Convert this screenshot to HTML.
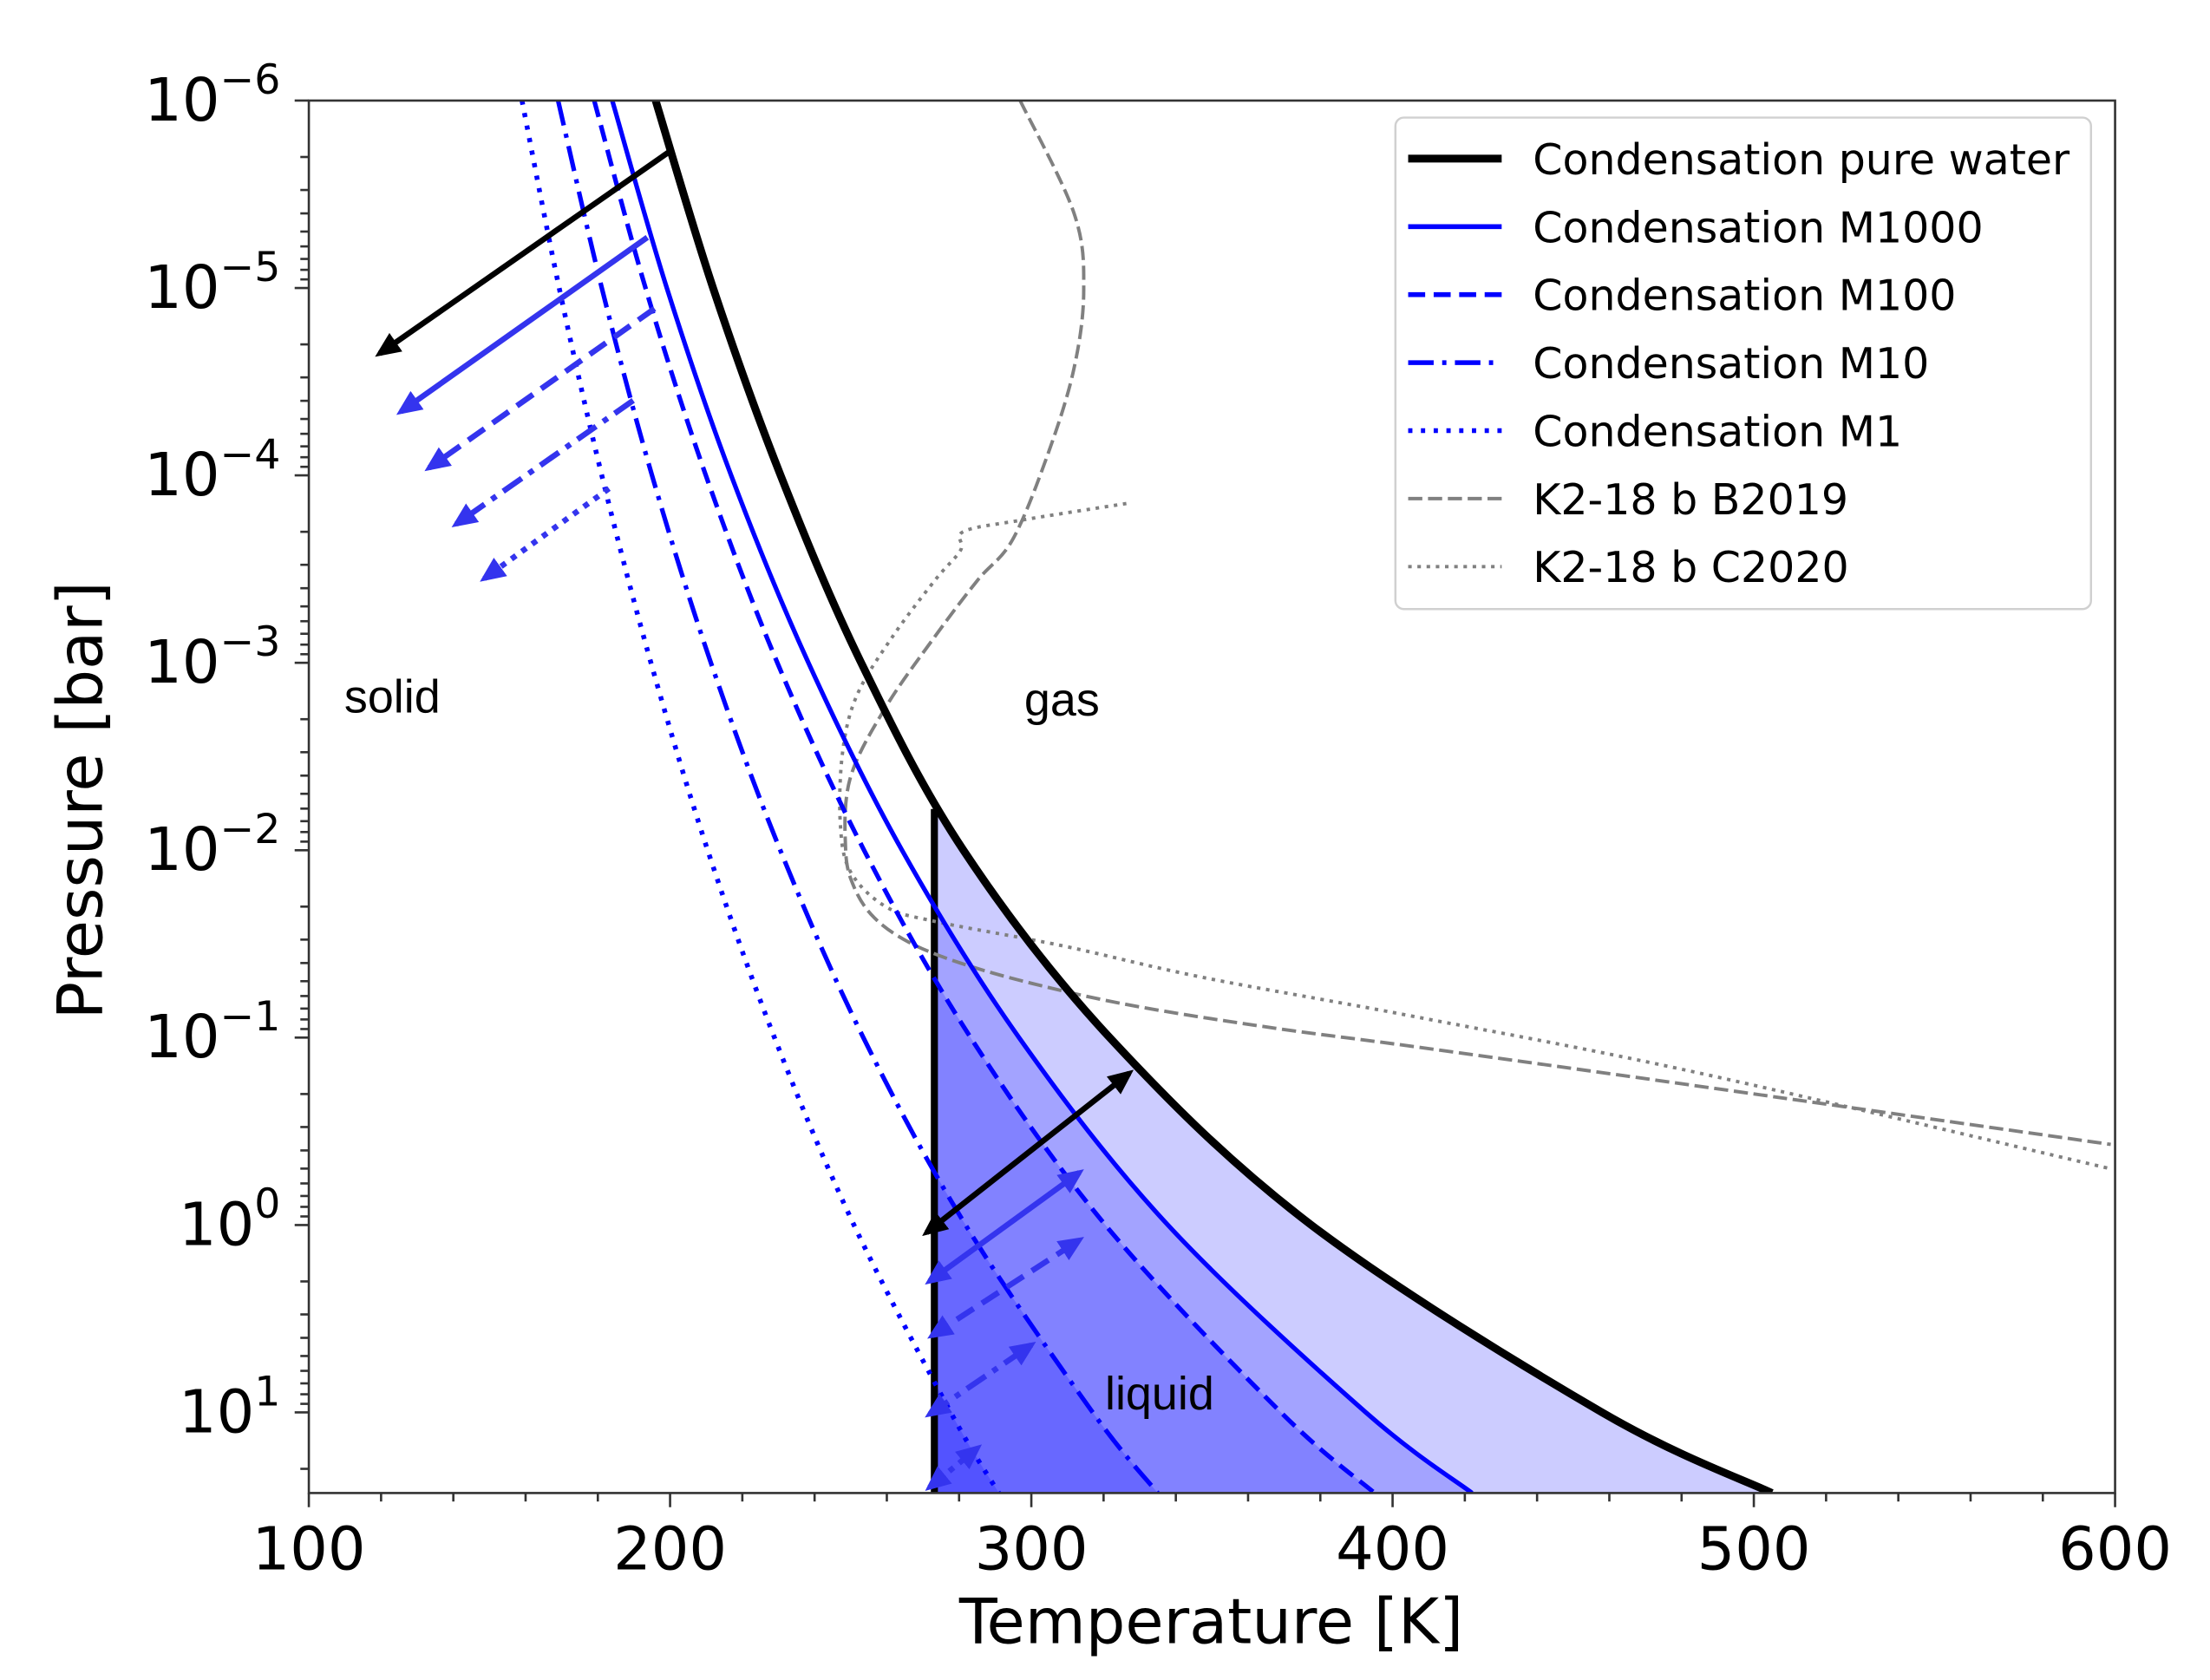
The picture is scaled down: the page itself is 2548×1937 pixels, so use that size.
<!DOCTYPE html>
<html><head><meta charset="utf-8"><style>
html,body{margin:0;padding:0;background:#fff;}
svg{display:block;font-family:"DejaVu Sans","Liberation Sans",sans-serif;}
</style></head><body>
<svg id="chart" width="2548" height="1937" viewBox="0 0 1560 1186" preserveAspectRatio="none" xmlns="http://www.w3.org/2000/svg">
<defs>
<clipPath id="plotclip"><rect x="218" y="71" width="1275" height="983"/></clipPath>
<clipPath id="liqclip"><rect id="liqrect" x="0" y="0" width="10" height="10"/></clipPath>
<marker id="ahk" markerWidth="4.5" markerHeight="4" refX="3.5" refY="2" orient="auto-start-reverse" markerUnits="strokeWidth"><path d="M0,0 L4.5,2 L0,4 Z" fill="#000"/></marker>
<marker id="ahb" markerWidth="4.5" markerHeight="4" refX="3.5" refY="2" orient="auto-start-reverse" markerUnits="strokeWidth"><path d="M0,0 L4.5,2 L0,4 Z" fill="#3434ee"/></marker>
</defs>
<g id="fills" clip-path="url(#plotclip)"></g>
<g id="lines" clip-path="url(#plotclip)"></g>
<g id="arrows"></g>
<g id="axes"></g>
<g id="legend"></g>
</svg>
<script>
// shared pressure grid (log10 bar) for condensation curves
const logPGrid = [-6,-5,-4,-3,-2,-1,0,1,1.43];
const tPure = [196,211.9,230.6,252.9,281.2,321.7,377.5,458,505];
const tM1000 = [184,199.1,216.9,238.3,264.2,296.6,337.8,392.6,422];
const tM100 = [179,193.2,209.9,229.7,253.7,283.2,320.5,369.1,395];
const tM10 = [169,181.1,195.0,211.3,230.5,253.5,281.8,317.0,335];
const tM1 = [159,169.3,181.1,194.7,210.4,228.9,250.9,277.7,291];
const tripleT = 273.16;
const tripleLogP = -2.22;
// K2-18 b profiles
const b2019T = [296.9,311.8,314.5,311.8,304.7,294.9,285.1,273.3,259.6,249.8,248.6,251.0,256.5,266.0,280.0,300.0,328.2,367.5,406.7,485.1,598.8];
const b2019P = [-6,-5.40,-4.99,-4.57,-4.12,-3.66,-3.44,-3.14,-2.76,-2.38,-2.0,-1.80,-1.64,-1.51,-1.40,-1.29,-1.17,-1.05,-0.95,-0.74,-0.43];
const c2020T = [326.3,296.9,281.2,280.4,273.3,261.6,251.8,247.8,247.1,249.8,259.6,273.3,308.6,347.8,406.7,485.1,598.8];
const c2020P = [-3.85,-3.76,-3.70,-3.60,-3.44,-3.14,-2.83,-2.53,-2.15,-1.89,-1.70,-1.62,-1.49,-1.32,-1.11,-0.81,-0.30];
const xTicks = [100,200,300,400,500,600];
const yTicks = [-6,-5,-4,-3,-2,-1,0,1];

const X0=218,X1=1493,Y0=71,Y1=1054;
const TMIN=100,TMAX=600;
const LMIN=-6, PXDEC=132.3;
const LMAX = LMIN + (Y1-Y0)/PXDEC;
function xs(t){return X0+(t-TMIN)/(TMAX-TMIN)*(X1-X0);}
function ys(l){return Y0+(l-LMIN)*PXDEC;}
const NS="http://www.w3.org/2000/svg";
function mk(tag,attrs,parent){const e=document.createElementNS(NS,tag);for(const k in attrs)e.setAttribute(k,attrs[k]);if(parent)parent.appendChild(e);return e;}
function smooth(pts){
  let d="M"+pts[0][0].toFixed(2)+","+pts[0][1].toFixed(2);
  for(let i=0;i<pts.length-1;i++){
    const p0=pts[Math.max(0,i-1)],p1=pts[i],p2=pts[i+1],p3=pts[Math.min(pts.length-1,i+2)];
    const c1=[p1[0]+(p2[0]-p0[0])/6,p1[1]+(p2[1]-p0[1])/6];
    const c2=[p2[0]-(p3[0]-p1[0])/6,p2[1]-(p3[1]-p1[1])/6];
    d+=" C"+c1[0].toFixed(2)+","+c1[1].toFixed(2)+" "+c2[0].toFixed(2)+","+c2[1].toFixed(2)+" "+p2[0].toFixed(2)+","+p2[1].toFixed(2);
  }
  return d;
}
function ptsOf(T,P){return T.map((t,i)=>[xs(t),ys(P[i])]);}

const fills=document.getElementById('fills');
const lines=document.getElementById('lines');
const arrows=document.getElementById('arrows');
const axes=document.getElementById('axes');
const legend=document.getElementById('legend');

const lr=document.getElementById('liqrect');
lr.setAttribute('x',xs(tripleT));lr.setAttribute('y',Y0-50);lr.setAttribute('width',X1-xs(tripleT)+50);lr.setAttribute('height',Y1-Y0+100);

const curves=[
 {name:'pure-water',T:tPure,color:'#000',w:5.5,dash:''},
 {name:'m1000',T:tM1000,color:'#0000ff',w:3.2,dash:''},
 {name:'m100',T:tM100,color:'#0000ff',w:3.2,dash:'12,6'},
 {name:'m10',T:tM10,color:'#0000ff',w:3.2,dash:'18,6,3,6'},
 {name:'m1',T:tM1,color:'#0000ff',w:3.4,dash:'3,6'}
];
curves.forEach(c=>{
  const pts=ptsOf(c.T,logPGrid);
  const d=smooth(pts)+" L"+(X0-100)+","+(Y1+20)+" L"+(X0-100)+","+(Y0-50)+" Z";
  const f=mk('path',{d:d,fill:'rgba(0,0,255,0.2)','clip-path':'url(#liqclip)'},fills);
  
  
});
const vl=mk('line',{x1:xs(tripleT),x2:xs(tripleT),y1:ys(tripleLogP),y2:Y1,stroke:'#000','stroke-width':5},lines);



const gp1=mk('path',{d:smooth(ptsOf(b2019T,b2019P)),fill:'none',stroke:'#808080','stroke-width':2.4,'stroke-dasharray':'10,4'},lines);


const gp2=mk('path',{d:smooth(ptsOf(c2020T,c2020P)),fill:'none',stroke:'#808080','stroke-width':2.4,'stroke-dasharray':'2.5,4'},lines);



curves.slice().reverse().forEach(c=>{
  const p=mk('path',{d:smooth(ptsOf(c.T,logPGrid)),fill:'none',stroke:c.color,'stroke-width':c.w},lines);
  if(c.dash)p.setAttribute('stroke-dasharray',c.dash);
  
  
});

// annotation arrows [T1,logP1,T2,logP2,color,dash,double,name]
const arrowDefs=[
 [200,-5.73,119.6,-4.65,'k','',false,'arrow-pure-solid'],
 [193.7,-5.27,125.5,-4.34,'b','',false,'arrow-m1000-solid'],
 [195.7,-4.89,133.3,-4.04,'b','14,7',false,'arrow-m100-solid'],
 [189.8,-4.40,140.8,-3.74,'b','16,6,4,6',false,'arrow-m10-solid'],
 [183.1,-3.93,148.6,-3.45,'b','4,5',false,'arrow-m1-solid'],
 [271,0.04,327.1,-0.81,'k','',true,'arrow-pure-liquid'],
 [271.8,0.30,313.3,-0.28,'b','',true,'arrow-m1000-liquid'],
 [272.5,0.59,313.3,0.08,'b','14,7',true,'arrow-m100-liquid'],
 [271.8,1.01,300,0.64,'b','16,6,4,6',true,'arrow-m10-liquid'],
 [271.8,1.40,285.1,1.19,'b','4,5',true,'arrow-m1-liquid']
];
arrowDefs.forEach(a=>{
  const col=a[4]==='k'?'#000':'#3434ee';
  const mid=a[4]==='k'?'url(#ahk)':'url(#ahb)';
  const l=mk('line',{x1:xs(a[0]),y1:ys(a[1]),x2:xs(a[2]),y2:ys(a[3]),stroke:col,'stroke-width':4,'marker-end':mid},arrows);
  if(a[5])l.setAttribute('stroke-dasharray',a[5]);
  if(a[6])l.setAttribute('marker-start',mid);
  
  
});

[['solid',243,503],['gas',723,505],['liquid',780,995]].forEach(t=>{
  const e=mk('text',{x:t[1],y:t[2],'font-size':33,fill:'#000','font-family':'"Liberation Sans",sans-serif'},axes);
  e.textContent=t[0];
  
  
});

const fr=mk('rect',{x:X0,y:Y0,width:X1-X0,height:Y1-Y0,fill:'none',stroke:'#333','stroke-width':1.6},axes);


for(let t=TMIN;t<=TMAX;t+=20){
  const major=(t%100===0);
  mk('line',{x1:xs(t),x2:xs(t),y1:Y1,y2:Y1+(major?10:6),stroke:'#333','stroke-width':1.6},axes);
}
xTicks.forEach(t=>{
  const e=mk('text',{x:xs(t),y:1108,'font-size':42,'text-anchor':'middle',fill:'#000'},axes);
  e.textContent=String(t);
  
  
});
for(let d=-6;d<=1;d++){
  for(let m=1;m<10;m++){
    const l=d+Math.log10(m);
    if(l>LMAX)break;
    mk('line',{x1:X0,x2:X0-(m===1?10:6),y1:ys(l),y2:ys(l),stroke:'#333','stroke-width':1.6},axes);
  }
}
yTicks.forEach(l=>{
  const e=mk('text',{x:198,y:ys(l)+14,'font-size':42,'text-anchor':'end',fill:'#000'},axes);
  const a=mk('tspan',{},e);a.textContent='10';
  const b=mk('tspan',{dy:-19,'font-size':29},e);b.textContent=(l<0?'\u2212':'')+Math.abs(l);
  
  
});
const xt=mk('text',{x:855,y:1160,'font-size':44,'text-anchor':'middle',fill:'#000'},axes);
xt.textContent='Temperature [K]';


const yt=mk('text',{x:0,y:0,'font-size':44,'text-anchor':'middle',fill:'#000',transform:'translate(72,565) rotate(-90)'},axes);
yt.textContent='Pressure [bar]';



const lb=mk('rect',{x:985,y:83,width:491,height:347,rx:6,fill:'#fff','fill-opacity':0.85,stroke:'#d0d0d0','stroke-width':1.5},legend);


const legItems=[
 ['Condensation pure water','#000',5.5,''],
 ['Condensation M1000','#0000ff',3.4,''],
 ['Condensation M100','#0000ff',3.4,'12,6'],
 ['Condensation M10','#0000ff',3.4,'18,6,3,6'],
 ['Condensation M1','#0000ff',3.4,'3,6'],
 ['K2-18 b B2019','#808080',2.4,'10,4'],
 ['K2-18 b C2020','#808080',2.4,'2.5,4']
];
legItems.forEach((it,i)=>{
  const y=112+i*48;
  const g=mk('g',{},legend);
  
  
  const l=mk('line',{x1:994,x2:1060,y1:y,y2:y,stroke:it[1],'stroke-width':it[2]},g);
  if(it[3])l.setAttribute('stroke-dasharray',it[3]);
  const t=mk('text',{x:1082,y:y+11,'font-size':30,fill:'#000'},g);
  t.textContent=it[0];
});
</script>
</body></html>
